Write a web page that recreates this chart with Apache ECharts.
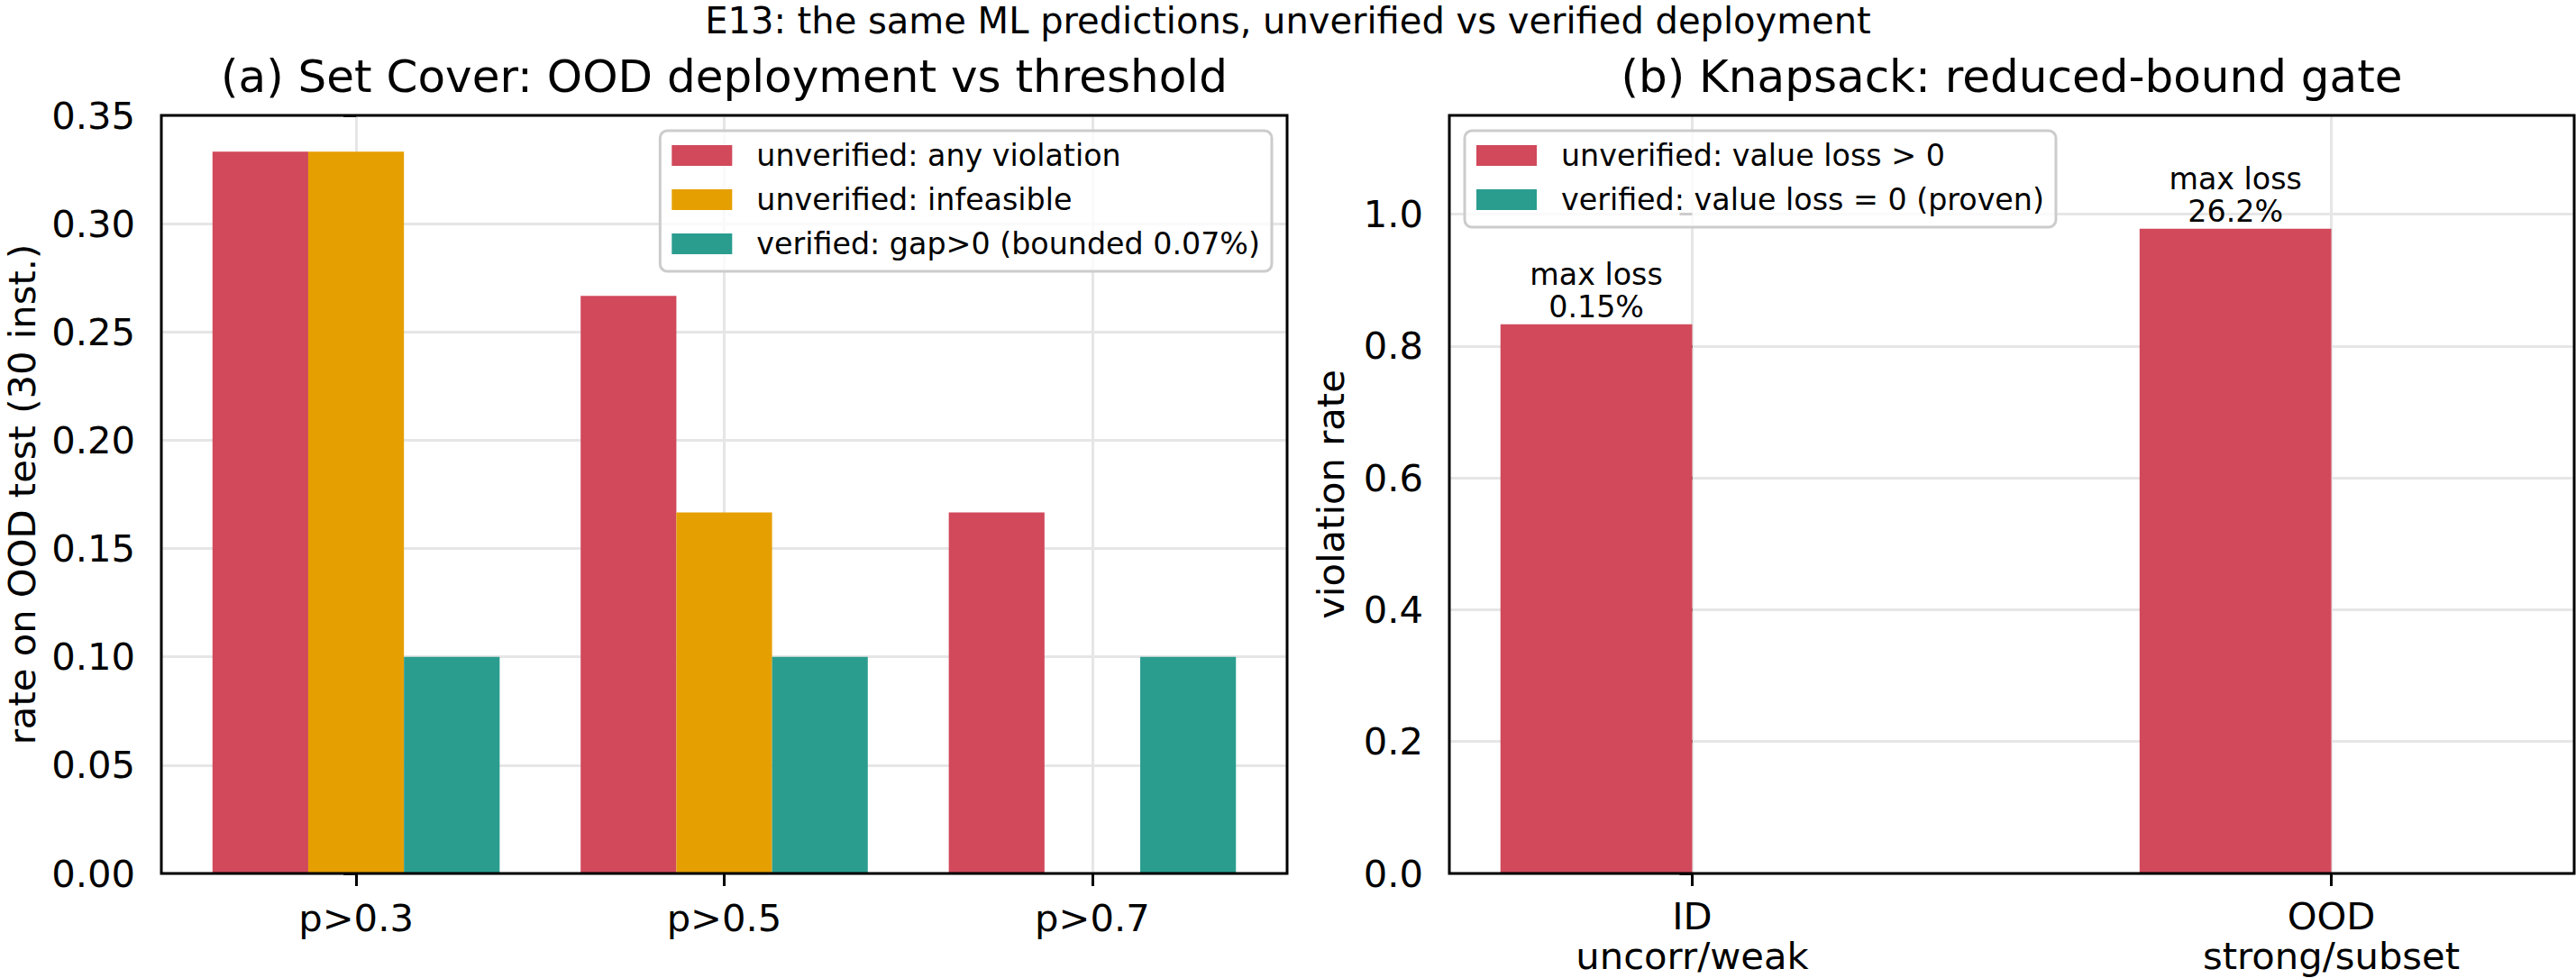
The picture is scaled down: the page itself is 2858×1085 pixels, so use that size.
<!DOCTYPE html>
<html><head><meta charset="utf-8">
<script src="https://cdn.jsdelivr.net/npm/echarts@6/dist/echarts.min.js"></script>
<style>html,body{margin:0;padding:0;background:#fff}#chart{width:2858px;height:1085px}</style>
</head><body><div id="chart"></div>
<script>
// ---- data ----
const thresholds = ['p>0.3', 'p>0.5', 'p>0.7'];
const anyViolation = [0.3333, 0.2667, 0.1667];
const infeasible = [0.3333, 0.1667, 0.0];
const verifiedGap = [0.1, 0.1, 0.1];
const setCoverNames = ['unverified: any violation', 'unverified: infeasible', 'verified: gap>0 (bounded 0.07%)'];

const knapCats = ['ID\nuncorr/weak', 'OOD\nstrong/subset'];
const lossUnverified = [0.833, 0.978];
const lossVerified = [0.0, 0.0];
const maxLossLabels = ['max loss\n0.15%', 'max loss\n26.2%'];
const knapNames = ['unverified: value loss > 0', 'verified: value loss = 0 (proven)'];

const leftXTicks = [0, 1, 2];
const rightXTicks = [0, 1];
const rightYTicks = [0, 0.2, 0.4, 0.6, 0.8, 1.0];

// ---- style ----
const RED = '#d1495b', ORANGE = '#e69f00', TEAL = '#2a9d8f';
const F = 'DejaVu Sans';
const GRIDC = '#e6e6e6';

const G0 = {left: 179, top: 128, width: 1249, height: 841};
const G1 = {left: 1608, top: 128, width: 1248, height: 841};

const tickStyle = {length: 14, lineStyle: {color: '#000', width: 3}};
const lblStyle = {fontSize: 41.7, fontFamily: F, color: '#000'};
const nameStyle = {fontSize: 41.7, fontFamily: F, color: '#000', lineHeight: 34};

const legendCommon = {
  orient: 'vertical', top: 145, icon: 'rect', itemWidth: 67, itemHeight: 23, itemGap: 16,
  selectedMode: false, padding: [11, 13, 14, 13], backgroundColor: 'rgba(255,255,255,0.8)',
  borderColor: '#cccccc', borderWidth: 3, borderRadius: 8,
  textStyle: {fontSize: 33.3, fontFamily: F, color: '#000', padding: [0, 0, 0, 22]}
};

const chart = echarts.init(document.getElementById('chart'), null, {renderer: 'svg'});
chart.setOption({
  animation: false,
  backgroundColor: '#fff',
  grid: [
    Object.assign({show: false, outerBoundsMode: 'none', containLabel: false}, G0),
    Object.assign({show: false, outerBoundsMode: 'none', containLabel: false}, G1)
  ],
  xAxis: [
    {gridIndex: 0, type: 'value', min: -0.529, max: 2.529,
     axisLine: {show: false},
     axisTick: Object.assign({show: true, customValues: leftXTicks}, tickStyle),
     axisLabel: Object.assign({customValues: leftXTicks, margin: 28,
       formatter: v => thresholds[Math.round(v)]}, lblStyle),
     splitLine: {show: true, lineStyle: {color: GRIDC, width: 3}}},
    {gridIndex: 1, type: 'value', min: -0.38, max: 1.38,
     axisLine: {show: false},
     axisTick: Object.assign({show: true, customValues: rightXTicks}, tickStyle),
     axisLabel: Object.assign({customValues: rightXTicks, margin: 25,
       formatter: v => knapCats[Math.round(v)]}, lblStyle, {lineHeight: 44}),
     splitLine: {show: true, lineStyle: {color: GRIDC, width: 3}}}
  ],
  yAxis: [
    {gridIndex: 0, type: 'value', min: 0, max: 0.35, interval: 0.05,
     axisLine: {show: false},
     axisTick: Object.assign({show: true}, tickStyle),
     axisLabel: Object.assign({margin: 29, formatter: v => v.toFixed(2)}, lblStyle),
     splitLine: {show: true, lineStyle: {color: GRIDC, width: 3}},
     name: 'rate on OOD test (30 inst.)', nameLocation: 'middle', nameGap: 138,
     nameTextStyle: nameStyle},
    {gridIndex: 1, type: 'value', min: 0, max: 1.15,
     axisLine: {show: false},
     axisTick: Object.assign({show: true, customValues: rightYTicks}, tickStyle),
     axisLabel: Object.assign({customValues: rightYTicks, margin: 29, formatter: v => v.toFixed(1)}, lblStyle),
     splitLine: {show: true, lineStyle: {color: GRIDC, width: 3}},
     name: 'violation rate', nameLocation: 'middle', nameGap: 115,
     nameTextStyle: nameStyle}
  ],
  legend: [
    Object.assign({data: setCoverNames, right: 2858 - 1411}, legendCommon),
    Object.assign({data: knapNames, left: 1625}, legendCommon)
  ],
  series: [
    {type: 'bar', name: setCoverNames[0], xAxisIndex: 0, yAxisIndex: 0, barWidth: '26%', barGap: '0%',
     itemStyle: {color: RED}, data: thresholds.map((c, i) => [i, anyViolation[i]])},
    {type: 'bar', name: setCoverNames[1], xAxisIndex: 0, yAxisIndex: 0, barWidth: '26%', barGap: '0%',
     itemStyle: {color: ORANGE}, data: thresholds.map((c, i) => [i, infeasible[i]])},
    {type: 'bar', name: setCoverNames[2], xAxisIndex: 0, yAxisIndex: 0, barWidth: '26%', barGap: '0%',
     itemStyle: {color: TEAL}, data: thresholds.map((c, i) => [i, verifiedGap[i]])},
    {type: 'bar', name: knapNames[0], xAxisIndex: 1, yAxisIndex: 1, barWidth: '30%', barGap: '0%',
     itemStyle: {color: RED}, data: knapCats.map((c, i) => [i, lossUnverified[i]]),
     label: {show: true, position: 'top', distance: 1, formatter: p => maxLossLabels[p.dataIndex],
       fontSize: 33.3, lineHeight: 36, fontFamily: F, color: '#000'}},
    {type: 'bar', name: knapNames[1], xAxisIndex: 1, yAxisIndex: 1, barWidth: '30%', barGap: '0%',
     itemStyle: {color: TEAL}, data: knapCats.map((c, i) => [i, lossVerified[i]])}
  ],
  graphic: [
    {type: 'text', x: 1429, y: 23, style: {text: 'E13: the same ML predictions, unverified vs verified deployment',
      fontSize: 40, fontFamily: F, fill: '#000', align: 'center', verticalAlign: 'middle'}},
    {type: 'text', x: 803.5, y: 85, style: {text: '(a) Set Cover: OOD deployment vs threshold',
      fontSize: 50, fontFamily: F, fill: '#000', align: 'center', verticalAlign: 'middle'}},
    {type: 'text', x: 2232, y: 85, style: {text: '(b) Knapsack: reduced-bound gate',
      fontSize: 50, fontFamily: F, fill: '#000', align: 'center', verticalAlign: 'middle'}},
    {type: 'rect', z: 100, shape: {x: G0.left, y: G0.top, width: G0.width, height: G0.height},
     style: {fill: 'none', stroke: '#000', lineWidth: 3}},
    {type: 'rect', z: 100, shape: {x: G1.left, y: G1.top, width: G1.width, height: G1.height},
     style: {fill: 'none', stroke: '#000', lineWidth: 3}}
  ]
});
</script></body></html>
